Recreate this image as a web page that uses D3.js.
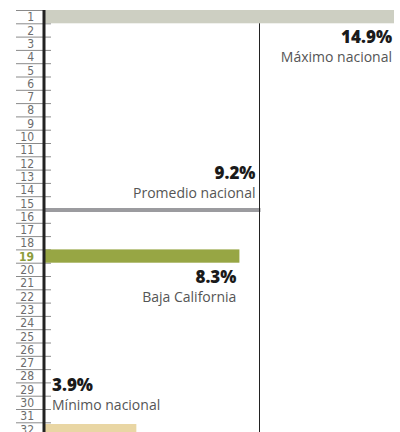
<!DOCTYPE html>
<html>
<head>
<meta charset="utf-8">
<script src="https://cdn.jsdelivr.net/npm/d3@7"></script>
<style>
  body { margin: 0; background: #fff; }
  .rowLabel { font-family: "Liberation Sans Narrow", "DejaVu Sans Condensed", sans-serif; font-size: 12px; fill: #6d6d6d; }
  .val { font-family: "Open Sans", sans-serif; font-weight: 800; font-size: 17px; fill: #1a1a1a; }
  .desc { font-family: "Open Sans", sans-serif; font-size: 14px; fill: #555; }
</style>
</head>
<body>
<div id="chart"></div>
<script>
// rank positions (1 = highest)
const rows = [1, 2, 3, 4, 5, 6, 7, 8, 9, 10, 11, 12, 13, 14, 15, 16,
  17, 18, 19, 20, 21, 22, 23, 24, 25, 26, 27, 28, 29, 30, 31, 32];

// bars that are drawn
const barRows = [1, 19, 32];
const barValues = [14.9, 8.3, 3.9];
const barNames = ["Máximo nacional", "Baja California", "Mínimo nacional"];

// national average, drawn between rank 15 and 16
const avgValue = 9.2;
const avgAfterRow = 15;
const avgName = "Promedio nacional";

const highlightRow = 19;
const maxValue = 14.9;

const W = 400, H = 432;
const colors = { 1: "#cdcfc2", 19: "#97a644", 32: "#e9d6a4" };

const svg = d3.select("#chart").append("svg")
  .attr("width", W)
  .attr("height", H);

const y = d3.scaleBand()
  .domain(rows)
  .range([10, 10 + 32 * 13.3]);

const x = d3.scaleLinear()
  .domain([0, maxValue])
  .range([45, 394]);

// rank labels and separators
const rowG = svg.append("g");
rowG.selectAll("line.sep")
  .data([0].concat(rows))
  .enter().append("line")
  .attr("x1", 16).attr("x2", 51)
  .attr("y1", d => d === 0 ? y.range()[0] + 0.5 : y(d) + y.bandwidth() + 0.5)
  .attr("y2", d => d === 0 ? y.range()[0] + 0.5 : y(d) + y.bandwidth() + 0.5)
  .attr("stroke", "#8a8a8a")
  .attr("stroke-width", 1);

rowG.selectAll("text")
  .data(rows)
  .enter().append("text")
  .attr("class", "rowLabel")
  .attr("x", 34)
  .attr("y", d => y(d) + y.bandwidth() - 2)
  .attr("text-anchor", "end")
  .style("font-weight", d => d === highlightRow ? "bold" : null)
  .style("fill", d => d === highlightRow ? "#8c9c3a" : null)
  .text(d => d);

// bars
svg.selectAll("rect.bar")
  .data(barRows)
  .enter().append("rect")
  .attr("class", "bar")
  .attr("x", x(0))
  .attr("y", (d, i) => d === 32 ? y(d) + 1.7 : y(d))
  .attr("width", (d, i) => x(barValues[i]) - x(0))
  .attr("height", y.bandwidth())
  .attr("fill", d => colors[d]);

// average bar
const avgY = y(avgAfterRow) + y.bandwidth();
svg.append("rect")
  .attr("x", x(0))
  .attr("y", avgY - 1.5)
  .attr("width", x(avgValue) - x(0))
  .attr("height", 4)
  .attr("fill", "#9b9b9f");

// average vertical line
svg.append("line")
  .attr("x1", Math.round(x(avgValue)) - 0.5)
  .attr("x2", Math.round(x(avgValue)) - 0.5)
  .attr("y1", y(1) + y.bandwidth())
  .attr("y2", H)
  .attr("stroke", "#222")
  .attr("stroke-width", 1);

// axis
svg.append("line")
  .attr("x1", 44).attr("x2", 44)
  .attr("y1", y.range()[0])
  .attr("y2", H)
  .attr("stroke", "#222")
  .attr("stroke-width", 3);

// labels
const labels = [
  { v: barValues[0], name: barNames[0], xr: x(barValues[0]) - 2, yb: 43, anchor: "end" },
  { v: avgValue, name: avgName, xr: x(avgValue) - 5, yb: 179, anchor: "end" },
  { v: barValues[1], name: barNames[1], xr: x(barValues[1]) - 3, yb: 283, anchor: "end" },
  { v: barValues[2], name: barNames[2], xr: 52, yb: 391, anchor: "start" }
];

const lg = svg.selectAll("g.lab")
  .data(labels)
  .enter().append("g");

lg.append("text")
  .attr("class", "val")
  .attr("x", d => d.xr)
  .attr("y", d => d.yb)
  .attr("text-anchor", d => d.anchor)
  .text(d => d3.format(".1f")(d.v) + "%");

lg.append("text")
  .attr("class", "desc")
  .attr("x", d => d.xr)
  .attr("y", d => d.yb + 19)
  .attr("text-anchor", d => d.anchor)
  .text(d => d.name);
</script>
</body>
</html>
